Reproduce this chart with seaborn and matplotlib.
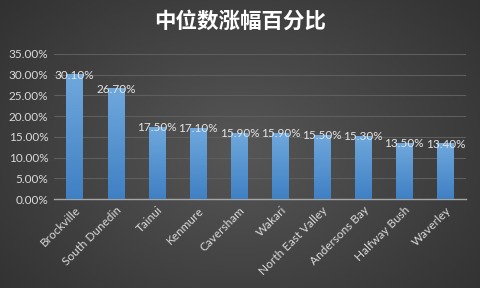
import numpy as np
import pandas as pd
import matplotlib
matplotlib.use("Agg")
import matplotlib.pyplot as plt
import seaborn as sns
from matplotlib.ticker import FuncFormatter

categories = ["Brockville", "South Dunedin", "Tainui", "Kenmure", "Caversham",
              "Wakari", "North East Valley", "Andersons Bay", "Halfway Bush", "Waverley"]
values = [0.301, 0.267, 0.175, 0.171, 0.159, 0.159, 0.155, 0.153, 0.135, 0.134]
yticks = [0, 0.05, 0.10, 0.15, 0.20, 0.25, 0.30, 0.35]
title = "中位数涨幅百分比"

sns.set_theme(style="dark")
plt.rcParams['font.family'] = ['Lato', 'DejaVu Sans']

df = pd.DataFrame({"cat": categories, "val": values})

fig = plt.figure(figsize=(4.8, 2.88), dpi=100)

# background radial gradient
bg = fig.add_axes([0, 0, 1, 1], zorder=-10)
yy, xx = np.mgrid[0:288, 0:480]
r = np.sqrt(((xx - 240) / 300.0) ** 2 + ((yy - 150) / 220.0) ** 2)
g = np.clip(0.34 - 0.14 * r, 0.15, 0.36)
bg.imshow(np.dstack([g, g, g]), aspect='auto', extent=[0, 1, 0, 1])
bg.axis('off')

ax = fig.add_axes([54 / 480, 1 - 199 / 288, 412 / 480, 145 / 288])
ax.patch.set_alpha(0)
sns.barplot(data=df, x="cat", y="val", ax=ax, color="#5b9bd5", width=0.4, zorder=3)

# gradient fill on bars
grad = np.linspace(0, 1, 256).reshape(-1, 1)
cmap = matplotlib.colors.LinearSegmentedColormap.from_list("b", ["#3f80c4", "#6fa8dc"])
for p in ax.patches:
    x0, y0 = p.get_x(), p.get_y()
    w, h = p.get_width(), p.get_height()
    im = ax.imshow(grad, cmap=cmap, origin='lower', aspect='auto',
                   extent=[x0, x0 + w, y0, y0 + h], zorder=3)
    im.set_clip_path(p)
    p.set_edgecolor("none")

ax.set_xlim(-0.5, len(categories) - 0.5)
ax.set_ylim(0, 0.35)
ax.set_yticks(yticks)
ax.yaxis.set_major_formatter(FuncFormatter(lambda v, _: f"{v*100:.2f}%"))
ax.grid(axis='y', color="#5e5e5e", linewidth=0.8, zorder=0)
ax.grid(axis='x', visible=False)
for s in ["top", "right", "left"]:
    ax.spines[s].set_visible(False)
ax.spines["bottom"].set_color("#a6a6a6")
ax.spines["bottom"].set_linewidth(1.0)
ax.tick_params(axis='both', colors="#d9d9d9", labelsize=8.5, length=0, pad=4)
ax.set_xticks(range(len(categories)))
ax.set_xticklabels(categories, rotation=45, ha='right', rotation_mode='anchor',
                   color="#d9d9d9", fontsize=8.5)
ax.set_xlabel("")
ax.set_ylabel("")

for i, v in enumerate(values):
    ax.text(i, v - 0.002, f"{v*100:.2f}%", ha='center', va='center', color="#e3e3e3",
            fontsize=8.5, zorder=5)

fig.text(0.5, 1 - 21 / 288, title, ha='center', va='center', color="white",
         fontsize=15.5, fontweight='bold', family=['Noto Sans CJK SC', 'DejaVu Sans'])

fig.savefig("out.png", dpi=100)
